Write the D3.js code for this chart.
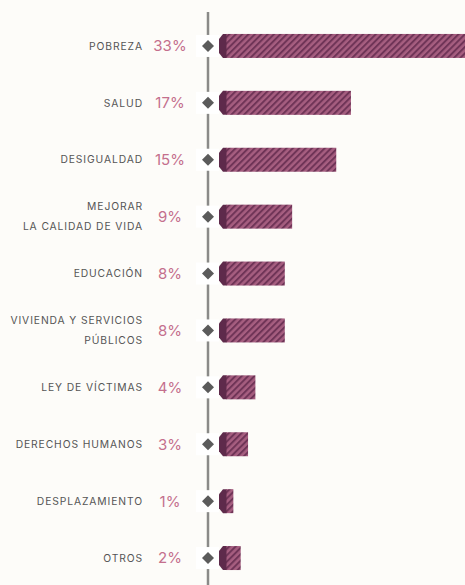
<!DOCTYPE html>
<html>
<head>
<meta charset="utf-8">
<script src="https://d3js.org/d3.v7.min.js"></script>
<style>
  body { margin: 0; background: #fdfcf9; }
  svg { display: block; }
</style>
</head>
<body>
<script>
// categories (each entry = label lines), values in percent
var labels = [
  ["POBREZA"],
  ["SALUD"],
  ["DESIGUALDAD"],
  ["MEJORAR", "LA CALIDAD DE VIDA"],
  ["EDUCACIÓN"],
  ["VIVIENDA Y SERVICIOS", "PÚBLICOS"],
  ["LEY DE VÍCTIMAS"],
  ["DERECHOS HUMANOS"],
  ["DESPLAZAMIENTO"],
  ["OTROS"]
];
var values = [33, 17, 15, 9, 8, 8, 4, 3, 1, 2];

var width = 465, height = 585;
var axisX = 208;
var barX0 = 226;

var svg = d3.select("body").append("svg")
  .attr("width", width)
  .attr("height", height);

// stripe pattern
var defs = svg.append("defs");
var pat = defs.append("pattern")
  .attr("id", "hatch")
  .attr("patternUnits", "userSpaceOnUse")
  .attr("width", 4.5)
  .attr("height", 4.5)
  .attr("patternTransform", "rotate(45)");
pat.append("rect").attr("width", 4.5).attr("height", 4.5).attr("fill", "#a65e80");
pat.append("rect").attr("width", 2).attr("height", 4.5).attr("fill", "#6f3457");

var y = d3.scaleBand()
  .domain(d3.range(values.length))
  .range([17.5, 586.5])
  .paddingInner(0.6)
  .paddingOuter(0.3);

var x = d3.scaleLinear()
  .domain([0, 1])
  .range([barX0, barX0 + 7.35]);

// vertical axis line
svg.append("line")
  .attr("x1", axisX).attr("x2", axisX)
  .attr("y1", 12).attr("y2", height)
  .attr("stroke", "#8a8a88")
  .attr("stroke-width", 2.5);

var rows = svg.selectAll("g.row")
  .data(values)
  .enter()
  .append("g")
  .attr("class", "row")
  .attr("transform", function (d, i) { return "translate(0," + (y(i) + y.bandwidth() / 2) + ")"; });

var bh = 24;

// white box behind the marker
rows.append("rect")
  .attr("x", 196).attr("y", -11)
  .attr("width", 23).attr("height", 22)
  .attr("fill", "#ffffff");

// diamond marker
rows.append("path")
  .attr("d", "M" + axisX + ",-6L" + (axisX + 6) + ",0L" + axisX + ",6L" + (axisX - 6) + ",0Z")
  .attr("fill", "#5b5b5b");

// hatched bar
rows.append("rect")
  .attr("x", x(0))
  .attr("y", -bh / 2)
  .attr("width", function (d) { return x(d) - x(0); })
  .attr("height", bh)
  .attr("fill", "url(#hatch)");

// dark end cap
rows.append("path")
  .attr("d", "M" + (barX0 + 0.5) + "," + (-bh / 2) + "L" + (barX0 - 3) + "," + (-bh / 2) +
    "L219," + (-bh / 2 + 5) + "L219," + (bh / 2 - 5) + "L" + (barX0 - 3) + "," + (bh / 2) +
    "L" + (barX0 + 0.5) + "," + (bh / 2) + "Z")
  .attr("fill", "#5e2a4b");

// percentages
rows.append("text")
  .attr("x", 170)
  .attr("y", 0)
  .attr("dy", "0.36em")
  .attr("text-anchor", "middle")
  .attr("fill", "#c46f8d")
  .style("font-family", "Inter, 'DejaVu Sans', sans-serif")
  .style("font-size", "15px")
  .text(function (d) { return d + "%"; });

// category labels
rows.append("text")
  .attr("text-anchor", "end")
  .attr("fill", "#555555")
  .style("font-family", "Inter, 'DejaVu Sans', sans-serif")
  .style("font-size", "10.3px")
  .style("letter-spacing", "0.9px")
  .each(function (d, i) {
    var lines = labels[i];
    var t = d3.select(this);
    lines.forEach(function (l, k) {
      t.append("tspan")
        .attr("x", 143)
        .attr("y", (k - (lines.length - 1) / 2) * 20)
        .attr("dy", "0.36em")
        .text(l);
    });
  });
</script>
</body>
</html>
